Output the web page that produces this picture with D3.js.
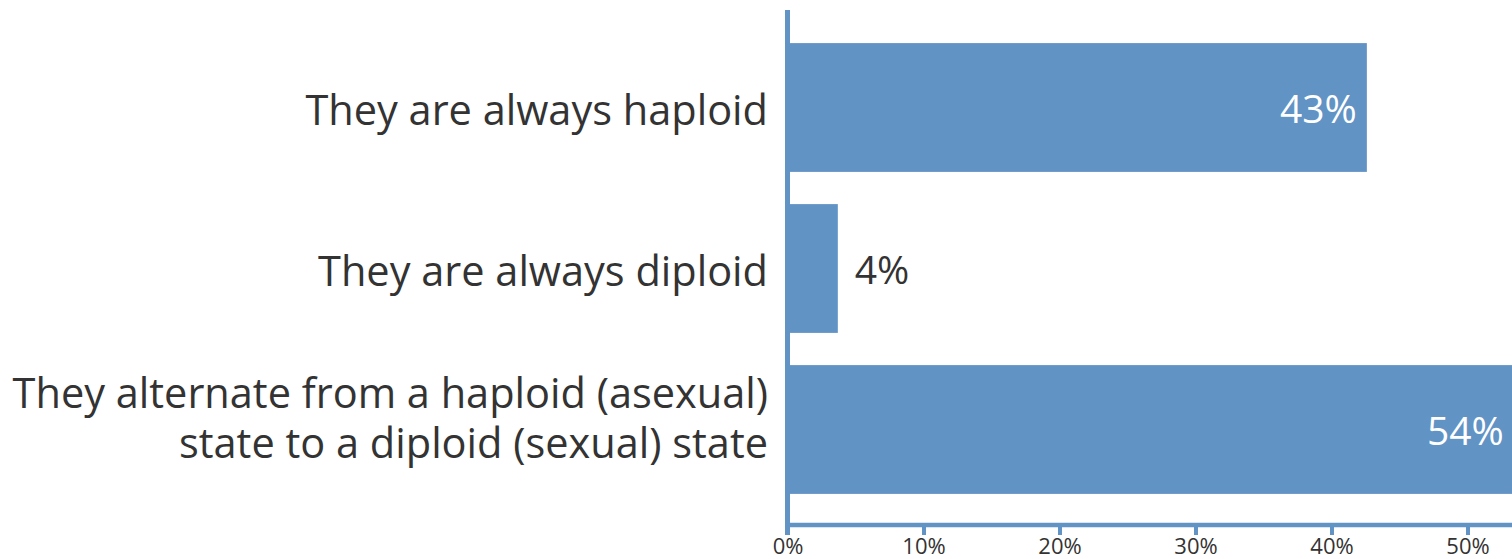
<!DOCTYPE html>
<html>
<head>
<meta charset="utf-8">
<script src="https://cdn.jsdelivr.net/npm/d3@7"></script>
<style>
  html, body { margin: 0; padding: 0; background: #fff; overflow: hidden; }
  svg { display: block; }
  text { font-family: "Open Sans", Lato, sans-serif; }
</style>
</head>
<body>
<script>
const categories = [
  ["They are always haploid"],
  ["They are always diploid"],
  ["They alternate from a haploid (asexual)", "state to a diploid (sexual) state"]
];
const values = [42.6, 3.7, 53.4];
const valueLabels = ["43%", "4%", "54%"];
const tickValues = [0, 10, 20, 30, 40, 50];
const tickLabels = ["0%", "10%", "20%", "30%", "40%", "50%"];

const W = 1512, H = 559;
const color = "#6193c5";
const textColor = "#333333";

const svg = d3.select("body").append("svg").attr("width", W).attr("height", H);

const x0 = 787.5;
const x = d3.scaleLinear().domain([0, 55]).range([x0, x0 + 5.5 * 136]);
const y = d3.scaleBand().domain(d3.range(categories.length)).range([27, 510])
  .paddingInner(0.2).paddingOuter(0.1);

// bars
svg.append("g").selectAll("rect").data(values).join("rect")
  .attr("x", x(0))
  .attr("y", (d, i) => y(i))
  .attr("width", d => x(d) - x(0))
  .attr("height", y.bandwidth())
  .attr("fill", color);

// value labels
const inside = d => x(d) - x(0) > 100;
svg.append("g").selectAll("text").data(values).join("text")
  .attr("x", d => (inside(d) ? x(d) - 10 : x(d) + 17))
  .attr("y", (d, i) => y(i) + y.bandwidth() / 2)
  .attr("dy", "0.4em")
  .attr("text-anchor", d => (inside(d) ? "end" : "start"))
  .attr("fill", d => (inside(d) ? "#ffffff" : textColor))
  .style("font-size", "39px")
  .text((d, i) => valueLabels[i]);

// category labels
const catG = svg.append("g");
categories.forEach((lines, i) => {
  const cy = y(i) + y.bandwidth() / 2;
  const lh = 50;
  const n = lines.length;
  const t = catG.append("text")
    .attr("text-anchor", "end")
    .attr("fill", textColor)
    .style("font-size", "41.5px");
  lines.forEach((ln, k) => {
    t.append("tspan")
      .attr("x", 768)
      .attr("y", cy + 17.5 + (k - (n - 1) / 2) * lh - (n - 1) * 14)
      .text(ln);
  });
});

// x axis
const xAxis = d3.axisBottom(x).tickValues(tickValues)
  .tickFormat((d, i) => tickLabels[i]).tickSize(10).tickSizeOuter(0).tickPadding(3);
const gx = svg.append("g").attr("transform", "translate(0,525)").call(xAxis);
gx.select(".domain").remove();
gx.selectAll(".tick line").attr("stroke", color).attr("stroke-width", 4);
gx.selectAll(".tick text").attr("fill", textColor).style("font-size", "22px")
  .style("font-family", "'Open Sans', Lato, sans-serif");
svg.append("line").attr("x1", x(0)).attr("x2", W).attr("y1", 525).attr("y2", 525)
  .attr("stroke", color).attr("stroke-width", 4.5);

// y axis line
svg.append("line").attr("x1", x(0)).attr("x2", x(0)).attr("y1", 10).attr("y2", 535)
  .attr("stroke", color).attr("stroke-width", 5);
</script>
</body>
</html>
